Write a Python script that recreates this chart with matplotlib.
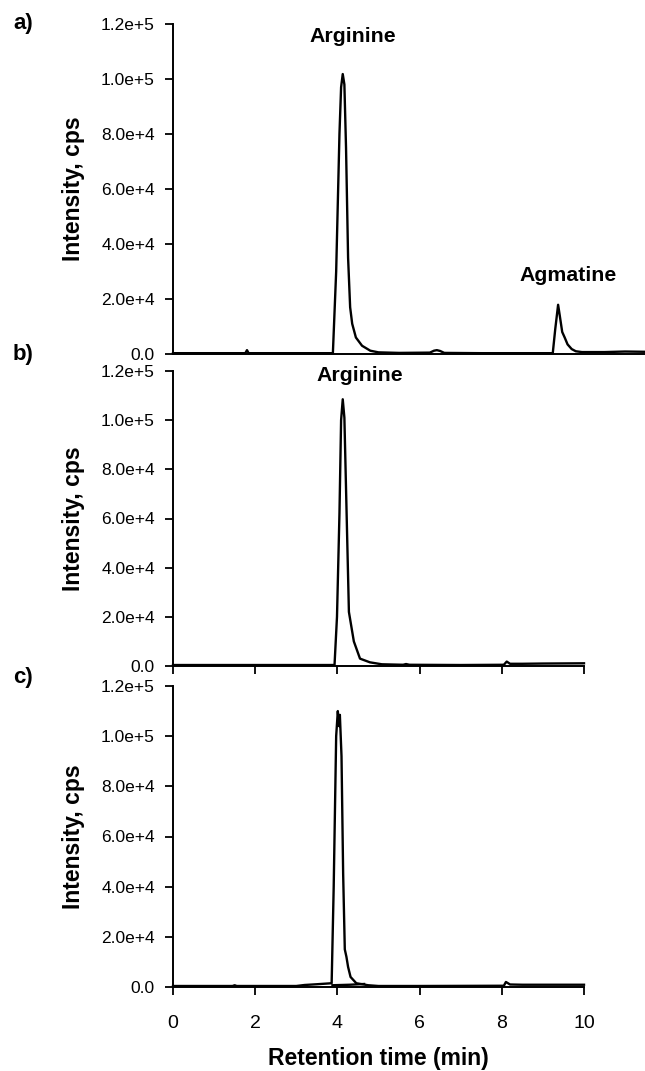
import matplotlib
matplotlib.use('Agg')
import matplotlib.pyplot as plt
from matplotlib.ticker import FixedLocator, FixedFormatter

plt.rcParams['font.family'] = ['Liberation Sans', 'DejaVu Sans']

# chromatogram traces, retention time (min) vs intensity (cps)
a_time = [0.0, 1.0, 1.76, 1.80, 1.84, 2.6, 3.5, 3.89, 3.97, 4.05, 4.09, 4.13, 4.17, 4.21,
          4.26, 4.31, 4.36, 4.45, 4.60, 4.80, 5.00, 5.5, 6.25, 6.35, 6.42, 6.50, 6.60, 7.5, 8.5,
          9.24, 9.30, 9.37, 9.41, 9.47, 9.53, 9.60, 9.70, 9.80, 9.95, 10.5, 11.0, 11.5]
a_int = [300, 300, 300, 1400, 300, 300, 300, 300, 30000, 80000, 97000, 101800, 98000, 75000,
         35000, 17000, 11000, 6000, 3000, 1200, 600, 400, 500, 1200, 1400, 1100, 400, 300, 300,
         300, 9000, 17900, 14000, 8000, 6000, 3500, 1800, 1000, 700, 700, 900, 800]

b_time = [0.0, 1.5, 3.0, 3.93, 3.99, 4.05, 4.09, 4.13, 4.17, 4.22, 4.28, 4.40, 4.55, 4.79,
          5.08, 5.6, 5.67, 5.75, 7.0, 8.05, 8.12, 8.20, 8.5, 9.0, 10.0]
b_int = [400, 400, 400, 400, 20000, 62000, 100000, 108500, 101000, 65000, 22000, 10000, 3000,
         1500, 700, 500, 800, 500, 400, 500, 1800, 900, 900, 1000, 1100]

c_time = [0.0, 1.45, 1.5, 1.55, 3.0, 3.2, 3.5, 3.86, 3.91, 3.97, 4.01, 4.04, 4.06, 4.10,
          4.14, 4.18, 4.22, 4.26, 4.32, 4.46, 4.75, 5.0, 6.0, 8.05, 8.10, 8.2, 8.5, 10.0]
c_int = [400, 400, 700, 400, 400, 800, 1100, 1500, 40000, 100000, 110000, 104000, 108500,
         92000, 45000, 15000, 12000, 8000, 4000, 1500, 700, 400, 400, 500, 2000, 1000, 900, 900]
c2_time = [3.88, 4.3, 4.65]
c2_int = [700, 900, 1200]

y_ticks = [0, 20000, 40000, 60000, 80000, 100000, 120000]
y_labels = ['0.0', '2.0e+4', '4.0e+4', '6.0e+4', '8.0e+4', '1.0e+5', '1.2e+5']
x_ticks = [0, 2, 4, 6, 8, 10]

W, H = 645, 1071
fig = plt.figure(figsize=(W / 100, H / 100), dpi=100)

x0 = 173
px_per_min = 41.1

def add_panel(top, bottom, right):
    ax = fig.add_axes([x0 / W, (H - bottom) / H, (right - x0) / W, (bottom - top) / H])
    for s in ['top', 'right']:
        ax.spines[s].set_visible(False)
    for s in ['left', 'bottom']:
        ax.spines[s].set_linewidth(1.4)
    ax.set_ylim(0, 120000)
    ax.set_xlim(0, (right - x0) / px_per_min)
    ax.yaxis.set_major_locator(FixedLocator(y_ticks))
    ax.yaxis.set_major_formatter(FixedFormatter(y_labels))
    ax.tick_params(axis='y', direction='out', length=6, width=1.3, labelsize=12.5, pad=7)
    ax.tick_params(axis='x', direction='out', length=6, width=1.3, labelsize=14, pad=14)
    ax.set_ylabel('Intensity, cps', fontsize=16.5, fontweight='bold')
    ax.yaxis.set_label_coords((85 - x0) / (right - x0), 0.5)
    return ax

ax_a = add_panel(24, 354, 645)
ax_b = add_panel(371, 666, 584)
ax_c = add_panel(686, 987, 584)

ax_a.plot(a_time, a_int, color='black', lw=1.7, clip_on=False)
ax_b.plot(b_time, b_int, color='black', lw=1.7, clip_on=False)
ax_c.plot(c_time, c_int, color='black', lw=1.7, clip_on=False)
ax_c.plot(c2_time, c2_int, color='black', lw=1.7, clip_on=False)

ax_a.tick_params(axis='x', bottom=False, labelbottom=False)
ax_b.xaxis.set_major_locator(FixedLocator(x_ticks))
ax_b.tick_params(axis='x', labelbottom=False)
ax_c.xaxis.set_major_locator(FixedLocator(x_ticks))
ax_c.set_xlabel('Retention time (min)', fontsize=16.5, fontweight='bold')
ax_c.xaxis.set_label_coords(0.5, -(1047 - 987) / (987 - 686))

# peak names
ax_a.text(4.38, 115300, 'Arginine', fontsize=15.3, fontweight='bold', ha='center', va='center')
ax_a.text(9.61, 28700, 'Agmatine', fontsize=15.3, fontweight='bold', ha='center', va='center')
ax_b.text(4.55, 118000, 'Arginine', fontsize=15.3, fontweight='bold', ha='center', va='center')

# panel letters
for lab, yc in [('a)', 23), ('b)', 355), ('c)', 678)]:
    fig.text(13 / W, 1 - yc / H, lab, fontsize=16, fontweight='bold', ha='left', va='center')

fig.savefig('out.png', dpi=100)
